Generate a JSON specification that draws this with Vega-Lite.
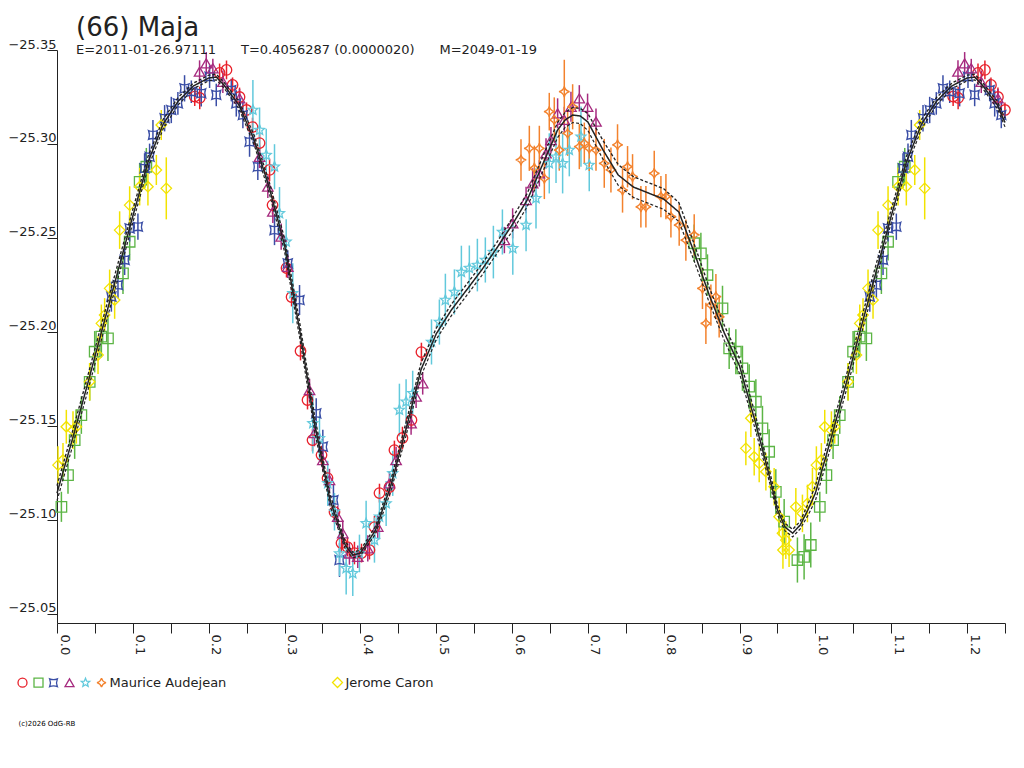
{
  "$schema": "https://vega.github.io/schema/vega-lite/v6.json",
  "width": 948,
  "height": 573,
  "autosize": {"type": "none"},
  "padding": {"left": 57, "top": 50, "right": 19, "bottom": 145},
  "background": "white",
  "config": {"view": {"stroke": null}, "font": "DejaVu Sans"},
  "title": {
    "text": "(66) Maja",
    "subtitle": "E=2011-01-26.97111\u00a0\u00a0\u00a0\u00a0\u00a0\u00a0T=0.4056287 (0.0000020)\u00a0\u00a0\u00a0\u00a0\u00a0\u00a0M=2049-01-19",
    "anchor": "start",
    "frame": "group",
    "offset": 0,
    "dx": 19,
    "dy": 19,
    "font": "DejaVu Sans",
    "fontSize": 26,
    "fontWeight": "normal",
    "color": "#222",
    "subtitleFont": "DejaVu Sans",
    "subtitleFontSize": 13,
    "subtitleColor": "#222",
    "subtitlePadding": 3
  },
  "datasets": {
    "pts": [
      {"s":"R","p":0.1816,"m":-25.3252,"e":0.005},
      {"s":"R","p":0.1882,"m":-25.3245,"e":0.006},
      {"s":"R","p":0.2144,"m":-25.3378,"e":0.005},
      {"s":"R","p":0.2235,"m":-25.3394,"e":0.005},
      {"s":"R","p":0.2315,"m":-25.3314,"e":0.004},
      {"s":"R","p":0.2407,"m":-25.3250,"e":0.005},
      {"s":"R","p":0.2499,"m":-25.3181,"e":0.004},
      {"s":"R","p":0.2578,"m":-25.3090,"e":0.005},
      {"s":"R","p":0.2671,"m":-25.3005,"e":0.005},
      {"s":"R","p":0.2803,"m":-25.2862,"e":0.006},
      {"s":"R","p":0.2842,"m":-25.2675,"e":0.005},
      {"s":"R","p":0.3026,"m":-25.2340,"e":0.005},
      {"s":"R","p":0.3093,"m":-25.2186,"e":0.005},
      {"s":"R","p":0.3211,"m":-25.1899,"e":0.005},
      {"s":"R","p":0.3303,"m":-25.1638,"e":0.005},
      {"s":"R","p":0.3369,"m":-25.1425,"e":0.006},
      {"s":"R","p":0.3488,"m":-25.1345,"e":0.005},
      {"s":"R","p":0.3567,"m":-25.1223,"e":0.005},
      {"s":"R","p":0.3659,"m":-25.1042,"e":0.006},
      {"s":"R","p":0.3751,"m":-25.0877,"e":0.005},
      {"s":"R","p":0.3830,"m":-25.0856,"e":0.005},
      {"s":"R","p":0.3922,"m":-25.0824,"e":0.006},
      {"s":"R","p":0.4015,"m":-25.0824,"e":0.005},
      {"s":"R","p":0.4120,"m":-25.0840,"e":0.005},
      {"s":"R","p":0.4186,"m":-25.0962,"e":0.006},
      {"s":"R","p":0.4252,"m":-25.1143,"e":0.005},
      {"s":"R","p":0.4384,"m":-25.1175,"e":0.005},
      {"s":"R","p":0.4449,"m":-25.1372,"e":0.005},
      {"s":"R","p":0.4555,"m":-25.1436,"e":0.006},
      {"s":"R","p":0.4674,"m":-25.1532,"e":0.005},
      {"s":"R","p":0.4805,"m":-25.1893,"e":0.005},
      {"s":"R","p":1.1816,"m":-25.3252,"e":0.005},
      {"s":"R","p":1.1882,"m":-25.3245,"e":0.006},
      {"s":"R","p":1.2144,"m":-25.3378,"e":0.005},
      {"s":"R","p":1.2235,"m":-25.3394,"e":0.005},
      {"s":"R","p":1.2315,"m":-25.3314,"e":0.004},
      {"s":"R","p":1.2407,"m":-25.3250,"e":0.005},
      {"s":"R","p":1.2499,"m":-25.3181,"e":0.004},

      {"s":"G","p":0.0058,"m":-25.1070,"e":0.008},
      {"s":"G","p":0.0145,"m":-25.1239,"e":0.010},
      {"s":"G","p":0.0233,"m":-25.1425,"e":0.010},
      {"s":"G","p":0.0321,"m":-25.1558,"e":0.010},
      {"s":"G","p":0.0431,"m":-25.1735,"e":0.010},
      {"s":"G","p":0.0497,"m":-25.1895,"e":0.011},
      {"s":"G","p":0.0585,"m":-25.1975,"e":0.011},
      {"s":"G","p":0.0672,"m":-25.1966,"e":0.012},
      {"s":"G","p":0.0870,"m":-25.2312,"e":0.011},
      {"s":"G","p":0.0958,"m":-25.2480,"e":0.010},
      {"s":"G","p":0.1090,"m":-25.2799,"e":0.010},
      {"s":"G","p":0.1178,"m":-25.2879,"e":0.010},
      {"s":"G","p":0.8402,"m":-25.2472,"e":0.010},
      {"s":"G","p":0.8490,"m":-25.2418,"e":0.011},
      {"s":"G","p":0.8577,"m":-25.2303,"e":0.011},
      {"s":"G","p":0.8775,"m":-25.2126,"e":0.012},
      {"s":"G","p":0.8863,"m":-25.1913,"e":0.011},
      {"s":"G","p":0.8951,"m":-25.1895,"e":0.012},
      {"s":"G","p":0.9038,"m":-25.1807,"e":0.012},
      {"s":"G","p":0.9127,"m":-25.1709,"e":0.012},
      {"s":"G","p":0.9215,"m":-25.1629,"e":0.012},
      {"s":"G","p":0.9302,"m":-25.1487,"e":0.012},
      {"s":"G","p":0.9390,"m":-25.1363,"e":0.012},
      {"s":"G","p":0.9478,"m":-25.1150,"e":0.012},
      {"s":"G","p":0.9588,"m":-25.0991,"e":0.012},
      {"s":"G","p":0.9763,"m":-25.0787,"e":0.012},
      {"s":"G","p":0.9851,"m":-25.0804,"e":0.012},
      {"s":"G","p":0.9939,"m":-25.0867,"e":0.012},
      {"s":"G","p":1.0058,"m":-25.1070,"e":0.008},
      {"s":"G","p":1.0145,"m":-25.1239,"e":0.010},
      {"s":"G","p":1.0233,"m":-25.1425,"e":0.010},
      {"s":"G","p":1.0321,"m":-25.1558,"e":0.010},
      {"s":"G","p":1.0431,"m":-25.1735,"e":0.010},
      {"s":"G","p":1.0497,"m":-25.1895,"e":0.011},
      {"s":"G","p":1.0585,"m":-25.1975,"e":0.011},
      {"s":"G","p":1.0672,"m":-25.1966,"e":0.012},
      {"s":"G","p":1.0870,"m":-25.2312,"e":0.011},
      {"s":"G","p":1.0958,"m":-25.2480,"e":0.010},
      {"s":"G","p":1.1090,"m":-25.2799,"e":0.010},
      {"s":"G","p":1.1178,"m":-25.2879,"e":0.010},

      {"s":"B","p":0.0717,"m":-25.2188,"e":0.008},
      {"s":"B","p":0.0804,"m":-25.2250,"e":0.007},
      {"s":"B","p":0.0892,"m":-25.2383,"e":0.008},
      {"s":"B","p":0.0958,"m":-25.2551,"e":0.007},
      {"s":"B","p":0.1067,"m":-25.2560,"e":0.007},
      {"s":"B","p":0.1155,"m":-25.2871,"e":0.008},
      {"s":"B","p":0.1221,"m":-25.2932,"e":0.007},
      {"s":"B","p":0.1265,"m":-25.3048,"e":0.008},
      {"s":"B","p":0.1419,"m":-25.3137,"e":0.007},
      {"s":"B","p":0.1507,"m":-25.3181,"e":0.007},
      {"s":"B","p":0.1594,"m":-25.3216,"e":0.006},
      {"s":"B","p":0.1682,"m":-25.3296,"e":0.007},
      {"s":"B","p":0.1771,"m":-25.3278,"e":0.006},
      {"s":"B","p":0.1902,"m":-25.3270,"e":0.007},
      {"s":"B","p":0.2012,"m":-25.3358,"e":0.006},
      {"s":"B","p":0.2100,"m":-25.3261,"e":0.006},
      {"s":"B","p":0.2298,"m":-25.3287,"e":0.006},
      {"s":"B","p":0.2364,"m":-25.3216,"e":0.007},
      {"s":"B","p":0.2451,"m":-25.3154,"e":0.007},
      {"s":"B","p":0.2539,"m":-25.3012,"e":0.008},
      {"s":"B","p":0.2648,"m":-25.2879,"e":0.007},
      {"s":"B","p":0.2868,"m":-25.2542,"e":0.008},
      {"s":"B","p":0.3043,"m":-25.2365,"e":0.007},
      {"s":"B","p":0.3198,"m":-25.2170,"e":0.008},
      {"s":"B","p":0.3418,"m":-25.1567,"e":0.008},
      {"s":"B","p":0.3505,"m":-25.1390,"e":0.009},
      {"s":"B","p":0.3645,"m":-25.1106,"e":0.008},
      {"s":"B","p":0.3725,"m":-25.0787,"e":0.009},
      {"s":"B","p":1.0717,"m":-25.2188,"e":0.008},
      {"s":"B","p":1.0804,"m":-25.2250,"e":0.007},
      {"s":"B","p":1.0892,"m":-25.2383,"e":0.008},
      {"s":"B","p":1.0958,"m":-25.2551,"e":0.007},
      {"s":"B","p":1.1067,"m":-25.2560,"e":0.007},
      {"s":"B","p":1.1155,"m":-25.2871,"e":0.008},
      {"s":"B","p":1.1221,"m":-25.2932,"e":0.007},
      {"s":"B","p":1.1265,"m":-25.3048,"e":0.008},
      {"s":"B","p":1.1419,"m":-25.3137,"e":0.007},
      {"s":"B","p":1.1507,"m":-25.3181,"e":0.007},
      {"s":"B","p":1.1594,"m":-25.3216,"e":0.006},
      {"s":"B","p":1.1682,"m":-25.3296,"e":0.007},
      {"s":"B","p":1.1771,"m":-25.3278,"e":0.006},
      {"s":"B","p":1.1902,"m":-25.3270,"e":0.007},
      {"s":"B","p":1.2012,"m":-25.3358,"e":0.006},
      {"s":"B","p":1.2100,"m":-25.3261,"e":0.006},
      {"s":"B","p":1.2298,"m":-25.3287,"e":0.006},
      {"s":"B","p":1.2364,"m":-25.3216,"e":0.007},
      {"s":"B","p":1.2451,"m":-25.3154,"e":0.007},

      {"s":"P","p":0.1880,"m":-25.3385,"e":0.006},
      {"s":"P","p":0.1968,"m":-25.3429,"e":0.006},
      {"s":"P","p":0.2055,"m":-25.3403,"e":0.005},
      {"s":"P","p":0.2187,"m":-25.3331,"e":0.006},
      {"s":"P","p":0.2407,"m":-25.3243,"e":0.005},
      {"s":"P","p":0.2671,"m":-25.2932,"e":0.006},
      {"s":"P","p":0.2780,"m":-25.2773,"e":0.006},
      {"s":"P","p":0.2846,"m":-25.2640,"e":0.006},
      {"s":"P","p":0.2956,"m":-25.2507,"e":0.007},
      {"s":"P","p":0.3043,"m":-25.2347,"e":0.006},
      {"s":"P","p":0.3330,"m":-25.1691,"e":0.006},
      {"s":"P","p":0.3395,"m":-25.1462,"e":0.007},
      {"s":"P","p":0.3505,"m":-25.1319,"e":0.006},
      {"s":"P","p":0.3593,"m":-25.1212,"e":0.006},
      {"s":"P","p":0.3702,"m":-25.1017,"e":0.006},
      {"s":"P","p":0.3768,"m":-25.0929,"e":0.007},
      {"s":"P","p":0.3856,"m":-25.0822,"e":0.006},
      {"s":"P","p":0.3966,"m":-25.0804,"e":0.006},
      {"s":"P","p":0.4098,"m":-25.0849,"e":0.007},
      {"s":"P","p":0.4229,"m":-25.0964,"e":0.006},
      {"s":"P","p":0.4384,"m":-25.1195,"e":0.006},
      {"s":"P","p":0.4471,"m":-25.1319,"e":0.007},
      {"s":"P","p":0.4669,"m":-25.1514,"e":0.006},
      {"s":"P","p":0.4735,"m":-25.1656,"e":0.006},
      {"s":"P","p":0.4822,"m":-25.1727,"e":0.006},
      {"s":"P","p":0.5899,"m":-25.2489,"e":0.007},
      {"s":"P","p":0.6008,"m":-25.2578,"e":0.008},
      {"s":"P","p":0.6185,"m":-25.2702,"e":0.007},
      {"s":"P","p":0.6272,"m":-25.2791,"e":0.008},
      {"s":"P","p":0.6360,"m":-25.2844,"e":0.007},
      {"s":"P","p":0.6448,"m":-25.2950,"e":0.008},
      {"s":"P","p":0.6513,"m":-25.3021,"e":0.007},
      {"s":"P","p":0.6601,"m":-25.3163,"e":0.008},
      {"s":"P","p":0.6689,"m":-25.3128,"e":0.007},
      {"s":"P","p":0.6777,"m":-25.3198,"e":0.008},
      {"s":"P","p":0.6887,"m":-25.3243,"e":0.007},
      {"s":"P","p":0.6996,"m":-25.3198,"e":0.007},
      {"s":"P","p":0.7107,"m":-25.3119,"e":0.007},
      {"s":"P","p":1.1880,"m":-25.3385,"e":0.006},
      {"s":"P","p":1.1968,"m":-25.3429,"e":0.006},
      {"s":"P","p":1.2055,"m":-25.3403,"e":0.005},
      {"s":"P","p":1.2187,"m":-25.3331,"e":0.006},
      {"s":"P","p":1.2407,"m":-25.3243,"e":0.005},

      {"s":"C","p":0.2583,"m":-25.3181,"e":0.016},
      {"s":"C","p":0.2671,"m":-25.3074,"e":0.012},
      {"s":"C","p":0.2759,"m":-25.2941,"e":0.014},
      {"s":"C","p":0.2868,"m":-25.2879,"e":0.012},
      {"s":"C","p":0.2934,"m":-25.2631,"e":0.014},
      {"s":"C","p":0.3022,"m":-25.2480,"e":0.012},
      {"s":"C","p":0.3109,"m":-25.2206,"e":0.016},
      {"s":"C","p":0.3373,"m":-25.1514,"e":0.016},
      {"s":"C","p":0.3461,"m":-25.1434,"e":0.012},
      {"s":"C","p":0.3570,"m":-25.1195,"e":0.012},
      {"s":"C","p":0.3659,"m":-25.1044,"e":0.010},
      {"s":"C","p":0.3725,"m":-25.0822,"e":0.012},
      {"s":"C","p":0.3813,"m":-25.0743,"e":0.014},
      {"s":"C","p":0.3900,"m":-25.0716,"e":0.012},
      {"s":"C","p":0.3988,"m":-25.0822,"e":0.010},
      {"s":"C","p":0.4076,"m":-25.0982,"e":0.012},
      {"s":"C","p":0.4186,"m":-25.0893,"e":0.012},
      {"s":"C","p":0.4252,"m":-25.1017,"e":0.012},
      {"s":"C","p":0.4340,"m":-25.1088,"e":0.012},
      {"s":"C","p":0.4427,"m":-25.1248,"e":0.012},
      {"s":"C","p":0.4515,"m":-25.1585,"e":0.014},
      {"s":"C","p":0.4603,"m":-25.1629,"e":0.012},
      {"s":"C","p":0.4690,"m":-25.1674,"e":0.012},
      {"s":"C","p":0.4938,"m":-25.1947,"e":0.012},
      {"s":"C","p":0.5042,"m":-25.2053,"e":0.012},
      {"s":"C","p":0.5121,"m":-25.2170,"e":0.014},
      {"s":"C","p":0.5240,"m":-25.2213,"e":0.012},
      {"s":"C","p":0.5332,"m":-25.2319,"e":0.014},
      {"s":"C","p":0.5437,"m":-25.2340,"e":0.012},
      {"s":"C","p":0.5543,"m":-25.2356,"e":0.014},
      {"s":"C","p":0.5648,"m":-25.2383,"e":0.012},
      {"s":"C","p":0.5754,"m":-25.2425,"e":0.014},
      {"s":"C","p":0.5873,"m":-25.2532,"e":0.012},
      {"s":"C","p":0.6010,"m":-25.2445,"e":0.014},
      {"s":"C","p":0.6185,"m":-25.2569,"e":0.014},
      {"s":"C","p":0.6316,"m":-25.2711,"e":0.016},
      {"s":"C","p":0.6491,"m":-25.2897,"e":0.016},
      {"s":"C","p":0.6580,"m":-25.2932,"e":0.014},
      {"s":"C","p":0.6667,"m":-25.2897,"e":0.016},
      {"s":"C","p":0.6755,"m":-25.2968,"e":0.014},
      {"s":"C","p":0.6909,"m":-25.3039,"e":0.016},
      {"s":"C","p":0.7018,"m":-25.2888,"e":0.014},

      {"s":"O","p":0.6118,"m":-25.2915,"e":0.011},
      {"s":"O","p":0.6228,"m":-25.2977,"e":0.012},
      {"s":"O","p":0.6294,"m":-25.2871,"e":0.012},
      {"s":"O","p":0.6360,"m":-25.2977,"e":0.012},
      {"s":"O","p":0.6426,"m":-25.2817,"e":0.011},
      {"s":"O","p":0.6491,"m":-25.3172,"e":0.010},
      {"s":"O","p":0.6557,"m":-25.3128,"e":0.012},
      {"s":"O","p":0.6623,"m":-25.2968,"e":0.011},
      {"s":"O","p":0.6689,"m":-25.3278,"e":0.017},
      {"s":"O","p":0.6733,"m":-25.3057,"e":0.012},
      {"s":"O","p":0.6799,"m":-25.3198,"e":0.012},
      {"s":"O","p":0.6887,"m":-25.2986,"e":0.012},
      {"s":"O","p":0.6953,"m":-25.3004,"e":0.011},
      {"s":"O","p":0.7018,"m":-25.2977,"e":0.012},
      {"s":"O","p":0.7107,"m":-25.2968,"e":0.011},
      {"s":"O","p":0.7216,"m":-25.2897,"e":0.013},
      {"s":"O","p":0.7304,"m":-25.2862,"e":0.012},
      {"s":"O","p":0.7391,"m":-25.2995,"e":0.011},
      {"s":"O","p":0.7457,"m":-25.2755,"e":0.012},
      {"s":"O","p":0.7523,"m":-25.2879,"e":0.011},
      {"s":"O","p":0.7589,"m":-25.2826,"e":0.012},
      {"s":"O","p":0.7699,"m":-25.2666,"e":0.011},
      {"s":"O","p":0.7765,"m":-25.2666,"e":0.011},
      {"s":"O","p":0.7875,"m":-25.2844,"e":0.012},
      {"s":"O","p":0.7963,"m":-25.2720,"e":0.011},
      {"s":"O","p":0.8029,"m":-25.2720,"e":0.012},
      {"s":"O","p":0.8095,"m":-25.2613,"e":0.011},
      {"s":"O","p":0.8204,"m":-25.2569,"e":0.011},
      {"s":"O","p":0.8292,"m":-25.2489,"e":0.011},
      {"s":"O","p":0.8402,"m":-25.2516,"e":0.011},
      {"s":"O","p":0.8511,"m":-25.2232,"e":0.011},
      {"s":"O","p":0.8556,"m":-25.2046,"e":0.011},
      {"s":"O","p":0.8622,"m":-25.2143,"e":0.011},
      {"s":"O","p":0.8688,"m":-25.2188,"e":0.012},
      {"s":"O","p":0.8731,"m":-25.2081,"e":0.011},

      {"s":"Y","p":0.0013,"m":-25.1292,"e":0.010},
      {"s":"Y","p":0.0079,"m":-25.1319,"e":0.009},
      {"s":"Y","p":0.0123,"m":-25.1496,"e":0.009},
      {"s":"Y","p":0.0211,"m":-25.1478,"e":0.010},
      {"s":"Y","p":0.0255,"m":-25.1496,"e":0.009},
      {"s":"Y","p":0.0431,"m":-25.1735,"e":0.010},
      {"s":"Y","p":0.0541,"m":-25.1877,"e":0.010},
      {"s":"Y","p":0.0585,"m":-25.2046,"e":0.010},
      {"s":"Y","p":0.0628,"m":-25.2090,"e":0.009},
      {"s":"Y","p":0.0694,"m":-25.2232,"e":0.010},
      {"s":"Y","p":0.0760,"m":-25.2170,"e":0.010},
      {"s":"Y","p":0.0826,"m":-25.2542,"e":0.010},
      {"s":"Y","p":0.0958,"m":-25.2675,"e":0.010},
      {"s":"Y","p":0.1090,"m":-25.2773,"e":0.010},
      {"s":"Y","p":0.1199,"m":-25.2773,"e":0.010},
      {"s":"Y","p":0.1310,"m":-25.2862,"e":0.008},
      {"s":"Y","p":0.1375,"m":-25.3101,"e":0.008},
      {"s":"Y","p":0.1441,"m":-25.2764,"e":0.0165},
      {"s":"Y","p":0.9083,"m":-25.1381,"e":0.009},
      {"s":"Y","p":0.9149,"m":-25.1541,"e":0.010},
      {"s":"Y","p":0.9193,"m":-25.1336,"e":0.010},
      {"s":"Y","p":0.9259,"m":-25.1301,"e":0.010},
      {"s":"Y","p":0.9347,"m":-25.1257,"e":0.010},
      {"s":"Y","p":0.9456,"m":-25.1177,"e":0.010},
      {"s":"Y","p":0.9522,"m":-25.1017,"e":0.010},
      {"s":"Y","p":0.9566,"m":-25.0929,"e":0.010},
      {"s":"Y","p":0.9572,"m":-25.0840,"e":0.010},
      {"s":"Y","p":0.9610,"m":-25.0893,"e":0.010},
      {"s":"Y","p":0.9653,"m":-25.0840,"e":0.009},
      {"s":"Y","p":0.9742,"m":-25.1070,"e":0.010},
      {"s":"Y","p":0.9829,"m":-25.1035,"e":0.010},
      {"s":"Y","p":0.9895,"m":-25.1088,"e":0.010},
      {"s":"Y","p":0.9961,"m":-25.1177,"e":0.010},
      {"s":"Y","p":1.0013,"m":-25.1292,"e":0.010},
      {"s":"Y","p":1.0079,"m":-25.1319,"e":0.009},
      {"s":"Y","p":1.0123,"m":-25.1496,"e":0.009},
      {"s":"Y","p":1.0211,"m":-25.1478,"e":0.010},
      {"s":"Y","p":1.0255,"m":-25.1496,"e":0.009},
      {"s":"Y","p":1.0431,"m":-25.1735,"e":0.010},
      {"s":"Y","p":1.0541,"m":-25.1877,"e":0.010},
      {"s":"Y","p":1.0585,"m":-25.2046,"e":0.010},
      {"s":"Y","p":1.0628,"m":-25.2090,"e":0.009},
      {"s":"Y","p":1.0694,"m":-25.2232,"e":0.010},
      {"s":"Y","p":1.0760,"m":-25.2170,"e":0.010},
      {"s":"Y","p":1.0826,"m":-25.2542,"e":0.010},
      {"s":"Y","p":1.0958,"m":-25.2675,"e":0.010},
      {"s":"Y","p":1.1090,"m":-25.2773,"e":0.010},
      {"s":"Y","p":1.1199,"m":-25.2773,"e":0.010},
      {"s":"Y","p":1.1310,"m":-25.2862,"e":0.008},
      {"s":"Y","p":1.1375,"m":-25.3101,"e":0.008},
      {"s":"Y","p":1.1441,"m":-25.2764,"e":0.0165}
    ],
    "curve": [
      {"p":0.00,"c":-25.1143,"u":-25.1183,"l":-25.1103},
      {"p":0.02,"c":-25.1425,"u":-25.1465,"l":-25.1385},
      {"p":0.04,"c":-25.1718,"u":-25.1758,"l":-25.1678},
      {"p":0.06,"c":-25.2021,"u":-25.2061,"l":-25.1981},
      {"p":0.08,"c":-25.2319,"u":-25.2359,"l":-25.2279},
      {"p":0.10,"c":-25.2617,"u":-25.2652,"l":-25.2582},
      {"p":0.12,"c":-25.2904,"u":-25.2934,"l":-25.2874},
      {"p":0.14,"c":-25.3106,"u":-25.3131,"l":-25.3081},
      {"p":0.16,"c":-25.3229,"u":-25.3249,"l":-25.3209},
      {"p":0.18,"c":-25.3309,"u":-25.3324,"l":-25.3294},
      {"p":0.20,"c":-25.3351,"u":-25.3366,"l":-25.3336},
      {"p":0.21,"c":-25.3356,"u":-25.3371,"l":-25.3341},
      {"p":0.22,"c":-25.3314,"u":-25.3329,"l":-25.3299},
      {"p":0.24,"c":-25.3207,"u":-25.3227,"l":-25.3187},
      {"p":0.26,"c":-25.3021,"u":-25.3046,"l":-25.2996},
      {"p":0.28,"c":-25.2766,"u":-25.2796,"l":-25.2736},
      {"p":0.30,"c":-25.2463,"u":-25.2498,"l":-25.2428},
      {"p":0.32,"c":-25.2010,"u":-25.2050,"l":-25.1970},
      {"p":0.34,"c":-25.1505,"u":-25.1545,"l":-25.1465},
      {"p":0.36,"c":-25.1106,"u":-25.1136,"l":-25.1076},
      {"p":0.38,"c":-25.0867,"u":-25.0887,"l":-25.0847},
      {"p":0.39,"c":-25.0813,"u":-25.0828,"l":-25.0798},
      {"p":0.40,"c":-25.0824,"u":-25.0839,"l":-25.0809},
      {"p":0.42,"c":-25.0946,"u":-25.0966,"l":-25.0926},
      {"p":0.44,"c":-25.1180,"u":-25.1210,"l":-25.1150},
      {"p":0.46,"c":-25.1480,"u":-25.1515,"l":-25.1445},
      {"p":0.48,"c":-25.1800,"u":-25.1835,"l":-25.1765},
      {"p":0.50,"c":-25.1990,"u":-25.2020,"l":-25.1960},
      {"p":0.52,"c":-25.2117,"u":-25.2147,"l":-25.2087},
      {"p":0.54,"c":-25.2223,"u":-25.2253,"l":-25.2193},
      {"p":0.56,"c":-25.2330,"u":-25.2360,"l":-25.2300},
      {"p":0.58,"c":-25.2447,"u":-25.2477,"l":-25.2417},
      {"p":0.60,"c":-25.2569,"u":-25.2604,"l":-25.2534},
      {"p":0.62,"c":-25.2702,"u":-25.2737,"l":-25.2667},
      {"p":0.64,"c":-25.2888,"u":-25.2928,"l":-25.2848},
      {"p":0.66,"c":-25.3074,"u":-25.3114,"l":-25.3034},
      {"p":0.67,"c":-25.3128,"u":-25.3168,"l":-25.3088},
      {"p":0.68,"c":-25.3154,"u":-25.3194,"l":-25.3114},
      {"p":0.69,"c":-25.3149,"u":-25.3189,"l":-25.3109},
      {"p":0.70,"c":-25.3117,"u":-25.3162,"l":-25.3072},
      {"p":0.72,"c":-25.2968,"u":-25.3018,"l":-25.2918},
      {"p":0.74,"c":-25.2835,"u":-25.2890,"l":-25.2780},
      {"p":0.76,"c":-25.2771,"u":-25.2826,"l":-25.2716},
      {"p":0.78,"c":-25.2739,"u":-25.2794,"l":-25.2684},
      {"p":0.80,"c":-25.2707,"u":-25.2762,"l":-25.2652},
      {"p":0.82,"c":-25.2638,"u":-25.2688,"l":-25.2588},
      {"p":0.84,"c":-25.2425,"u":-25.2470,"l":-25.2380},
      {"p":0.86,"c":-25.2197,"u":-25.2237,"l":-25.2157},
      {"p":0.88,"c":-25.1994,"u":-25.2034,"l":-25.1954},
      {"p":0.90,"c":-25.1819,"u":-25.1859,"l":-25.1779},
      {"p":0.92,"c":-25.1532,"u":-25.1572,"l":-25.1492},
      {"p":0.94,"c":-25.1223,"u":-25.1253,"l":-25.1193},
      {"p":0.95,"c":-25.1053,"u":-25.1078,"l":-25.1028},
      {"p":0.96,"c":-25.0962,"u":-25.0982,"l":-25.0942},
      {"p":0.97,"c":-25.0930,"u":-25.0950,"l":-25.0910},
      {"p":0.98,"c":-25.0973,"u":-25.0993,"l":-25.0953},
      {"p":0.99,"c":-25.1053,"u":-25.1083,"l":-25.1023},
      {"p":1.00,"c":-25.1143,"u":-25.1183,"l":-25.1103},
      {"p":1.02,"c":-25.1425,"u":-25.1465,"l":-25.1385},
      {"p":1.04,"c":-25.1718,"u":-25.1758,"l":-25.1678},
      {"p":1.06,"c":-25.2021,"u":-25.2061,"l":-25.1981},
      {"p":1.08,"c":-25.2319,"u":-25.2359,"l":-25.2279},
      {"p":1.10,"c":-25.2617,"u":-25.2652,"l":-25.2582},
      {"p":1.12,"c":-25.2904,"u":-25.2934,"l":-25.2874},
      {"p":1.14,"c":-25.3106,"u":-25.3131,"l":-25.3081},
      {"p":1.16,"c":-25.3229,"u":-25.3249,"l":-25.3209},
      {"p":1.18,"c":-25.3309,"u":-25.3324,"l":-25.3294},
      {"p":1.20,"c":-25.3351,"u":-25.3366,"l":-25.3336},
      {"p":1.21,"c":-25.3356,"u":-25.3371,"l":-25.3341},
      {"p":1.22,"c":-25.3314,"u":-25.3329,"l":-25.3299},
      {"p":1.24,"c":-25.3207,"u":-25.3227,"l":-25.3187},
      {"p":1.25,"c":-25.3114,"u":-25.3137,"l":-25.3091}
    ]
  },
  "encoding": {
    "x": {
      "field": "p", "type": "quantitative",
      "scale": {"domain": [0, 1.25], "nice": false, "zero": false},
      "axis": {
        "values": [0, 0.05, 0.1, 0.15, 0.2, 0.25, 0.3, 0.35, 0.4, 0.45, 0.5, 0.55, 0.6, 0.65, 0.7, 0.75, 0.8, 0.85, 0.9, 0.95, 1, 1.05, 1.1, 1.15, 1.2, 1.25],
        "labelExpr": "abs(datum.value*10 - round(datum.value*10)) < 0.001 ? format(datum.value, '.1f') : ''",
        "labelAngle": 90, "labelAlign": "left", "labelBaseline": "bottom", "labelPadding": 1,
        "labelFont": "DejaVu Sans", "labelFontSize": 13, "labelColor": "#222",
        "labelOverlap": false, "labelFlush": false, "labelBound": false,
        "tickSize": 10, "tickColor": "#222", "domainColor": "#222", "grid": false,
        "title": "(c)2026 OdG-RB", "titleFont": "DejaVu Sans", "titleFontSize": 7, "titleFontWeight": "normal",
        "titleColor": "#000", "titleAnchor": "start", "titleAlign": "left", "titleBaseline": "alphabetic",
        "titleX": -39, "titleY": 102
      }
    },
    "y": {
      "field": "m", "type": "quantitative",
      "scale": {"domain": [-25.35, -25.0452], "reverse": true, "nice": false, "zero": false},
      "axis": {
        "values": [-25.35, -25.3, -25.25, -25.2, -25.15, -25.1, -25.05],
        "format": ".2f",
        "labelFont": "DejaVu Sans", "labelFontSize": 13, "labelColor": "#222",
        "labelAlign": "right", "labelBaseline": "alphabetic", "labelOffset": -2, "labelPadding": -9,
        "labelFlush": false, "labelOverlap": false, "labelBound": false,
        "tickSize": 10, "tickColor": "#222", "domainColor": "#222", "grid": false, "title": null
      }
    }
  },
  "layer": [
    {
      "data": {"name": "pts"},
      "transform": [{"filter": "datum.s != 'Y'"}],
      "mark": {"type": "errorbar", "thickness": 1.5},
      "encoding": {
        "yError": {"field": "e"},
        "color": {"field": "s", "type": "nominal", "scale": {"domain": ["R", "G", "B", "P", "C", "O"], "range": ["#e8202a", "#5cb545", "#3a4ea6", "#a62b7f", "#62c9dc", "#f3822d"]}}
      }
    },
    {
      "data": {"name": "pts"},
      "transform": [{"filter": "datum.s == 'Y'"}],
      "mark": {"type": "errorbar", "thickness": 1.5, "color": "#f2e300"},
      "encoding": {
        "yError": {"field": "e"}
      }
    },
    {
      "data": {"name": "pts"},
      "transform": [{"filter": "datum.s != 'Y'"}],
      "mark": {"type": "point", "filled": false, "size": 110, "strokeWidth": 1.3, "opacity": 1},
      "encoding": {
        "color": {
          "field": "s", "type": "nominal",
          "scale": {"domain": ["R", "G", "B", "P", "C", "O"], "range": ["#e8202a", "#5cb545", "#3a4ea6", "#a62b7f", "#62c9dc", "#f3822d"]},
          "legend": {
            "title": null, "orient": "none", "legendX": -41, "legendY": 626, "direction": "horizontal",
            "columnPadding": 0, "labelOffset": 1.5, "symbolSize": 81, "symbolStrokeWidth": 1.3,
            "labelFont": "DejaVu Sans", "labelFontSize": 13, "labelColor": "#222", "labelLimit": 0, "padding": 0,
            "labelExpr": "datum.label == 'O' ? '\u00a0Maurice Audejean' : ''"
          }
        },
        "shape": {
          "field": "s", "type": "nominal",
          "scale": {"domain": ["R", "G", "B", "P", "C", "O"], "range": ["circle", "square", "M-0.85,-0.85Q0,-0.5,0.85,-0.85Q0.5,0,0.85,0.85Q0,0.5,-0.85,0.85Q-0.5,0,-0.85,-0.85Z", "triangle-up", "M0,-1L0.26,-0.36L0.95,-0.31L0.43,0.14L0.59,0.81L0,0.45L-0.59,0.81L-0.43,0.14L-0.95,-0.31L-0.26,-0.36Z", "M0,-1Q0.2,-0.2,1,0Q0.2,0.2,0,1Q-0.2,0.2,-1,0Q-0.2,-0.2,0,-1Z"]},
          "legend": {
            "title": null, "orient": "none", "legendX": -41, "legendY": 626, "direction": "horizontal",
            "columnPadding": 0, "labelOffset": 1.5, "symbolSize": 81, "symbolStrokeWidth": 1.3,
            "labelFont": "DejaVu Sans", "labelFontSize": 13, "labelColor": "#222", "labelLimit": 0, "padding": 0,
            "labelExpr": "datum.label == 'O' ? '\u00a0Maurice Audejean' : ''"
          }
        }
      }
    },
    {
      "data": {"name": "pts"},
      "transform": [{"filter": "datum.s == 'Y'"}],
      "mark": {"type": "point", "shape": "diamond", "filled": false, "size": 110, "strokeWidth": 1.3, "opacity": 1},
      "encoding": {
        "stroke": {
          "field": "s", "type": "nominal",
          "scale": {"domain": ["Y"], "range": ["#f2e300"]},
          "legend": {
            "title": null, "orient": "none", "legendX": 274, "legendY": 626, "direction": "horizontal",
            "symbolType": "diamond", "labelOffset": 1.5, "symbolSize": 100, "symbolStrokeWidth": 1.3,
            "labelFont": "DejaVu Sans", "labelFontSize": 13, "labelColor": "#222", "labelLimit": 0, "padding": 0,
            "labelExpr": "'\u00a0Jerome Caron'"
          }
        }
      }
    },
    {
      "data": {"name": "curve"},
      "transform": [{"fold": ["u", "l", "c"], "as": ["k", "m"]}],
      "mark": {"type": "line", "color": "#222"},
      "encoding": {
        "detail": {"field": "k", "type": "nominal"},
        "strokeDash": {"field": "k", "type": "nominal", "scale": {"domain": ["c", "u", "l"], "range": [[1, 0], [3, 2], [3, 2]]}, "legend": null},
        "strokeWidth": {"field": "k", "type": "nominal", "scale": {"domain": ["c", "u", "l"], "range": [1.5, 1.2, 1.2]}, "legend": null}
      }
    }
  ]
}
